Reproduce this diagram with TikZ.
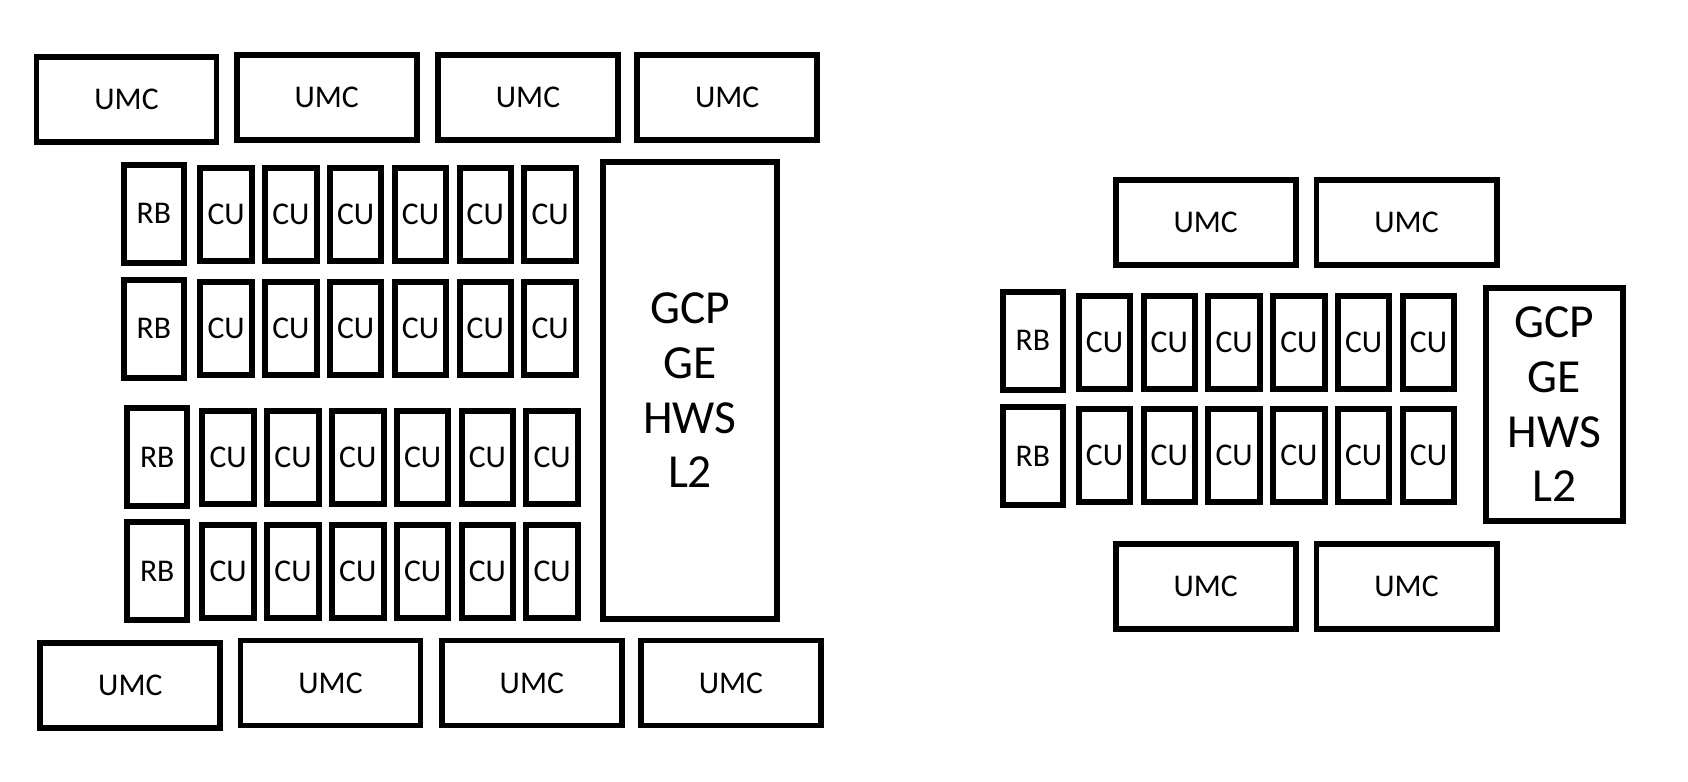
\documentclass[tikz,border=0pt]{standalone}
\usepackage{fontspec}
\setmainfont{Carlito}

\begin{document}
\begin{tikzpicture}[
    blk/.style={draw,line width=1.7pt,inner sep=0pt,font=\fontsize{9}{10}\selectfont},
    umc/.style={blk,minimum width=1.80cm,minimum height=0.85cm},
    rb/.style={blk,minimum width=0.60cm,minimum height=0.98cm},
    cu/.style={blk,minimum width=0.515cm,minimum height=0.935cm},
    gcp/.style={blk,align=center,font=\fontsize{13.5}{15.6}\selectfont}]
      \useasboundingbox (0,0) rectangle (16.88,7.815);%

      % left: memory controllers
      \node[umc] (LT1) at (1.265,6.820) {UMC};%
      \node[umc] (LT2) at (3.267,6.841) {UMC};%
      \node[umc] (LT3) at (5.280,6.841) {UMC};%
      \node[umc] (LT4) at (7.272,6.841) {UMC};%

      \node[umc] (LB1) at (1.303,0.963) {UMC};%
      \node[umc] (LB2) at (3.305,0.985) {UMC};%
      \node[umc] (LB3) at (5.318,0.985) {UMC};%
      \node[umc] (LB4) at (7.309,0.985) {UMC};%

      % left: four rows
      \node[rb] (LR1) at (1.539,5.679) {RB};%
      \node[cu] (LC11) at (2.261,5.668) {CU};%
      \node[cu] (LC12) at (2.909,5.668) {CU};%
      \node[cu] (LC13) at (3.557,5.668) {CU};%
      \node[cu] (LC14) at (4.205,5.668) {CU};%
      \node[cu] (LC15) at (4.853,5.668) {CU};%
      \node[cu] (LC16) at (5.501,5.668) {CU};%

      \node[rb] (LR2) at (1.539,4.527) {RB};%
      \node[cu] (LC21) at (2.261,4.532) {CU};%
      \node[cu] (LC22) at (2.909,4.532) {CU};%
      \node[cu] (LC23) at (3.557,4.532) {CU};%
      \node[cu] (LC24) at (4.205,4.532) {CU};%
      \node[cu] (LC25) at (4.853,4.532) {CU};%
      \node[cu] (LC26) at (5.501,4.532) {CU};%

      \node[rb] (LR3) at (1.572,3.246) {RB};%
      \node[cu] (LC31) at (2.282,3.240) {CU};%
      \node[cu] (LC32) at (2.930,3.240) {CU};%
      \node[cu] (LC33) at (3.578,3.240) {CU};%
      \node[cu] (LC34) at (4.226,3.240) {CU};%
      \node[cu] (LC35) at (4.874,3.240) {CU};%
      \node[cu] (LC36) at (5.522,3.240) {CU};%

      \node[rb] (LR4) at (1.572,2.105) {RB};%
      \node[cu] (LC41) at (2.282,2.099) {CU};%
      \node[cu] (LC42) at (2.930,2.099) {CU};%
      \node[cu] (LC43) at (3.578,2.099) {CU};%
      \node[cu] (LC44) at (4.226,2.099) {CU};%
      \node[cu] (LC45) at (4.874,2.099) {CU};%
      \node[cu] (LC46) at (5.522,2.099) {CU};%

      \node[gcp,minimum width=1.74cm,minimum height=4.57cm] (LG) at (6.900,3.913) {GCP\\GE\\HWS\\L2};%

      % right: memory controllers
      \node[umc] (RT1) at (12.057,5.592) {UMC};%
      \node[umc] (RT2) at (14.065,5.592) {UMC};%
      \node[umc] (RB1) at (12.057,1.954) {UMC};%
      \node[umc] (RB2) at (14.065,1.954) {UMC};%

      % right: two rows
      \node[rb] (RR1) at (10.329,4.408) {RB};%
      \node[cu] (RC11) at (11.045,4.392) {CU};%
      \node[cu] (RC12) at (11.693,4.392) {CU};%
      \node[cu] (RC13) at (12.341,4.392) {CU};%
      \node[cu] (RC14) at (12.989,4.392) {CU};%
      \node[cu] (RC15) at (13.637,4.392) {CU};%
      \node[cu] (RC16) at (14.285,4.392) {CU};%

      \node[rb] (RR2) at (10.329,3.256) {RB};%
      \node[cu] (RC21) at (11.045,3.262) {CU};%
      \node[cu] (RC22) at (11.693,3.262) {CU};%
      \node[cu] (RC23) at (12.341,3.262) {CU};%
      \node[cu] (RC24) at (12.989,3.262) {CU};%
      \node[cu] (RC25) at (13.637,3.262) {CU};%
      \node[cu] (RC26) at (14.285,3.262) {CU};%

      \node[gcp,minimum width=1.376cm,minimum height=2.33cm] (RG) at (15.545,3.773) {GCP\\GE\\HWS\\L2};%
    \end{tikzpicture}
\end{document}
